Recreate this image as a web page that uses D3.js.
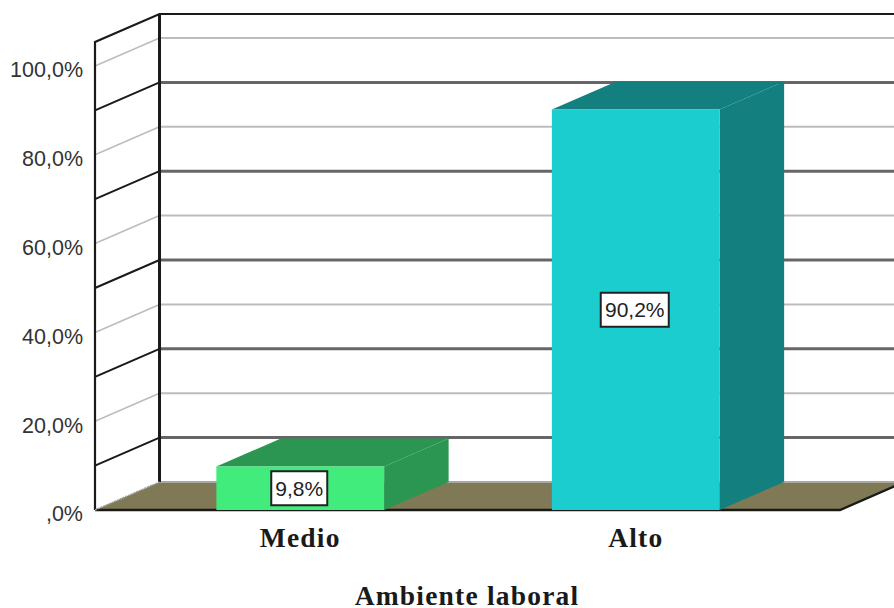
<!DOCTYPE html>
<html>
<head>
<meta charset="utf-8">
<script src="https://cdn.jsdelivr.net/npm/d3@7"></script>
<style>
html,body{margin:0;padding:0;background:#fff;overflow:hidden}
svg{display:block}
</style>
</head>
<body>
<svg id="chart" width="894" height="608"></svg>
<script>
// Percentage of respondents per level of workplace climate
const categories = ["Medio", "Alto"];
const percentages = [9.8, 90.2];
const frontColors = ["#41eb7c", "#1ccdcf"];
const sideColors = ["#2a9651", "#13807f"];
const yTicks = [0, 20, 40, 60, 80, 100];
const gridLevels = [10, 20, 30, 40, 50, 60, 70, 80, 90, 100];
const axisTitle = "Ambiente laboral";

const depthX = 64.5, depthY = -28;
const svg = d3.select("#chart");

const y = d3.scaleLinear().domain([0, 100]).range([510, 66]);
const x = d3.scaleBand().domain(categories).range([132.5, 803.5])
  .paddingInner(0.5).paddingOuter(0.25);

const left = 95, right = 840, axisMax = 105.4;
const locale = d3.formatLocale({decimal: ",", thousands: ".", grouping: [3], currency: ["", ""]});
const fmt = locale.format(".1f");
const pct = v => fmt(v).replace(/^0,/, ",") + "%";
const poly = pts => pts.map(p => p.join(",")).join(" ");

// Floor
svg.append("polygon")
  .attr("points", poly([[left, y(0)], [right, y(0)], [right + depthX, y(0) + depthY], [left + depthX, y(0) + depthY]]))
  .attr("fill", "#7f7a55");
svg.append("line")
  .attr("x1", left + depthX).attr("x2", 894)
  .attr("y1", y(0) + depthY).attr("y2", y(0) + depthY)
  .attr("stroke", "#a9a9a0").attr("stroke-width", 2);

// Grid lines on the back and side walls; odd tens are darker
const isDark = d => d % 20 === 10;
const grid = svg.append("g").selectAll("g").data(gridLevels).join("g");
grid.append("line")
  .attr("x1", left + depthX).attr("x2", 894)
  .attr("y1", d => y(d) + depthY).attr("y2", d => y(d) + depthY)
  .attr("stroke", d => isDark(d) ? "#666" : "#bdbdbd")
  .attr("stroke-width", d => isDark(d) ? 3 : 2);
grid.append("line")
  .attr("x1", left).attr("x2", left + depthX)
  .attr("y1", d => y(d)).attr("y2", d => y(d) + depthY)
  .attr("stroke", d => isDark(d) ? "#1a1a1a" : "#bdbdbd")
  .attr("stroke-width", d => isDark(d) ? 2 : 1.6);

// Wall frame
const frame = svg.append("g").attr("fill", "none").attr("stroke", "#1a1a1a");
frame.append("path")
  .attr("d", `M${left},${y(0)}V${y(axisMax)}L${left + depthX},${y(axisMax) + depthY}H894`)
  .attr("stroke-width", 2.2);
frame.append("line")
  .attr("x1", left + depthX).attr("x2", left + depthX)
  .attr("y1", y(axisMax) + depthY).attr("y2", y(0) + depthY)
  .attr("stroke-width", 3);
frame.append("path")
  .attr("d", `M${left},${y(0)}H${right}L${right + depthX},${y(0) + depthY}`)
  .attr("stroke-width", 2.4);
frame.append("line")
  .attr("x1", left).attr("x2", left + depthX)
  .attr("y1", y(0)).attr("y2", y(0) + depthY)
  .attr("stroke", "#a0a0a0").attr("stroke-width", 1.6).attr("stroke-dasharray", "2 1");

// Value axis
const yAxis = d3.axisLeft(y).tickValues(yTicks).tickFormat(pct).tickSize(0).tickPadding(12);
const axisG = svg.append("g").attr("transform", `translate(${left},4)`).call(yAxis);
axisG.select(".domain").remove();
axisG.selectAll("text")
  .attr("font-family", "'Liberation Sans', Arial, sans-serif")
  .attr("font-size", 21.5)
  .attr("fill", "#333");

// Bars
const rows = categories.map((c, i) => ({c, v: percentages[i], front: frontColors[i], side: sideColors[i]}));
const bars = svg.append("g").selectAll("g").data(rows).join("g");
bars.append("polygon")
  .attr("points", d => {
    const x0 = x(d.c), x1 = x0 + x.bandwidth(), t = y(d.v);
    return poly([[x0, t], [x0 + depthX, t + depthY], [x1 + depthX, t + depthY], [x1, t]]);
  })
  .attr("fill", d => d.side);
bars.append("polygon")
  .attr("points", d => {
    const x1 = x(d.c) + x.bandwidth(), t = y(d.v);
    return poly([[x1, t], [x1 + depthX, t + depthY], [x1 + depthX, y(0) + depthY], [x1, y(0)]]);
  })
  .attr("fill", d => d.side);
bars.append("rect")
  .attr("x", d => x(d.c)).attr("width", x.bandwidth())
  .attr("y", d => y(d.v)).attr("height", d => y(0) - y(d.v))
  .attr("fill", d => d.front);

// Value labels in boxes at the centre of each front face
const cx = d => x(d.c) + x.bandwidth() / 2 - 1;
const cy = d => (y(d.v) + y(0)) / 2;
bars.append("rect")
  .attr("x", d => cx(d) - (d.v < 10 ? 28 : 34)).attr("width", d => d.v < 10 ? 56 : 68)
  .attr("y", d => cy(d) - 17).attr("height", 34)
  .attr("fill", "#fff").attr("stroke", "#222").attr("stroke-width", 2);
bars.append("text")
  .attr("x", cx).attr("y", cy).attr("dy", "0.36em")
  .attr("text-anchor", "middle")
  .attr("font-family", "'Liberation Sans', Arial, sans-serif")
  .attr("font-size", 21).attr("fill", "#222")
  .text(d => pct(d.v));

// Category labels and axis title
const serif = "'Liberation Serif', 'Times New Roman', serif";
svg.append("g").selectAll("text").data(categories).join("text")
  .attr("x", d => x(d) + x.bandwidth() / 2).attr("y", 547)
  .attr("text-anchor", "middle")
  .attr("font-family", serif).attr("font-weight", "bold")
  .attr("font-size", 27.5).attr("letter-spacing", 1.2).attr("fill", "#1a1a1a")
  .text(d => d);
svg.append("text")
  .attr("x", 467).attr("y", 605)
  .attr("text-anchor", "middle")
  .attr("font-family", serif).attr("font-weight", "bold")
  .attr("font-size", 27.5).attr("letter-spacing", 1.2).attr("fill", "#1a1a1a")
  .text(axisTitle);
</script>
</body>
</html>
